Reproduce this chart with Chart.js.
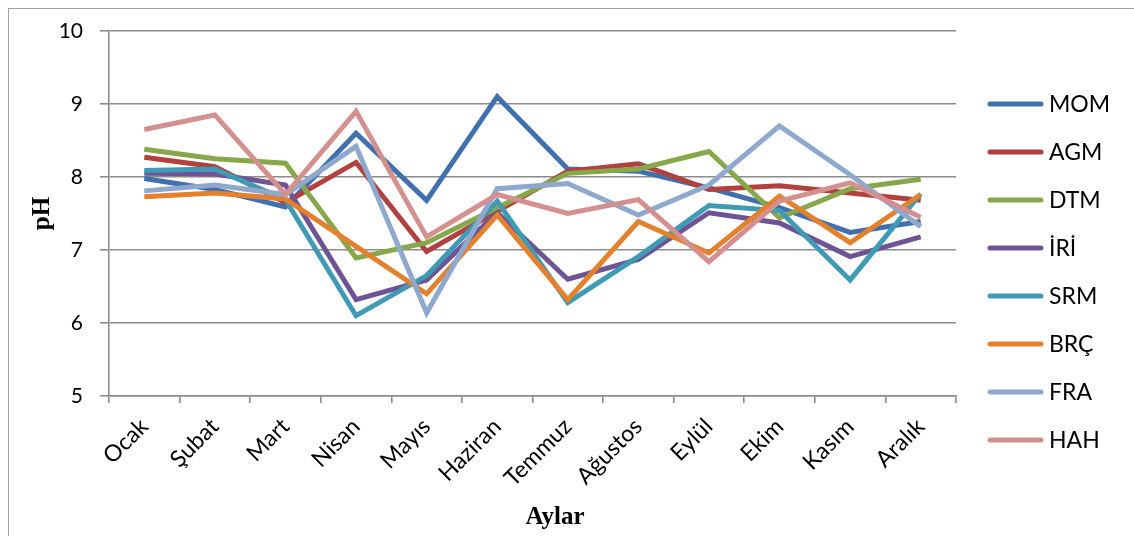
<!DOCTYPE html>
<html>
<head>
<meta charset="utf-8">
<script src="https://cdn.jsdelivr.net/npm/chart.js@4.4.1/dist/chart.umd.min.js"></script>
<style>
  html, body { margin: 0; padding: 0; background: #fff; }
  #wrap { position: relative; width: 1134px; height: 536px; overflow: hidden; }
  #frame { position: absolute; left: 8px; top: 8px; width: 1200px; height: 600px;
           border-left: 1.5px solid #a3a3a3; border-top: 1.5px solid #a3a3a3; }
  canvas { position: absolute; left: 0; top: 0; }
</style>
</head>
<body>
<div id="wrap">
  <div id="frame"></div>
  <canvas id="phChart" width="1134" height="536"></canvas>
</div>
<script>
// --- data ---
const months = ['Ocak', 'Şubat', 'Mart', 'Nisan', 'Mayıs', 'Haziran', 'Temmuz', 'Ağustos', 'Eylül', 'Ekim', 'Kasım', 'Aralık'];
const seriesNames = ['MOM', 'AGM', 'DTM', 'İRİ', 'SRM', 'BRÇ', 'FRA', 'HAH'];

const MOM = [7.98, 7.83, 7.59, 8.60, 7.68, 9.10, 8.11, 8.08, 7.85, 7.58, 7.24, 7.39];
const AGM = [8.27, 8.14, 7.65, 8.20, 6.98, 7.53, 8.08, 8.18, 7.83, 7.88, 7.78, 7.68];
const DTM = [8.38, 8.25, 8.19, 6.89, 7.10, 7.58, 8.05, 8.11, 8.35, 7.44, 7.84, 7.97];
const IRI = [8.05, 8.04, 7.89, 6.32, 6.59, 7.51, 6.60, 6.87, 7.51, 7.37, 6.91, 7.18];
const SRM = [8.09, 8.11, 7.69, 6.10, 6.65, 7.67, 6.28, 6.91, 7.61, 7.54, 6.59, 7.77];
const BRC = [7.73, 7.78, 7.70, 7.05, 6.40, 7.48, 6.32, 7.39, 6.96, 7.74, 7.10, 7.76];
const FRA = [7.81, 7.89, 7.76, 8.42, 6.14, 7.84, 7.91, 7.48, 7.89, 8.70, 8.03, 7.32];
const HAH = [8.65, 8.85, 7.76, 8.90, 7.18, 7.76, 7.50, 7.69, 6.84, 7.67, 7.92, 7.45];

const yTicks = [5, 6, 7, 8, 9, 10];

const seriesValues = [MOM, AGM, DTM, IRI, SRM, BRC, FRA, HAH];
const colors = ['#4071ae', '#b0413e', '#87a84a', '#6e5494', '#3e9ab5', '#e3812f', '#8ea8ce', '#d3908e'];

const gridColor = '#8c8c8c';

Chart.defaults.font.family = 'Lato';
Chart.defaults.color = '#000';

// legend drawn like Excel: short thick line + name, stacked on the right
const sideLegend = {
  id: 'sideLegend',
  afterDraw(chart) {
    const ctx = chart.ctx;
    ctx.save();
    ctx.font = '23px Lato';
    ctx.textBaseline = 'middle';
    ctx.textAlign = 'left';
    chart.data.datasets.forEach((ds, i) => {
      const y = 104 + i * 48;
      ctx.strokeStyle = ds.borderColor;
      ctx.lineWidth = 5;
      ctx.lineCap = 'round';
      ctx.beginPath();
      ctx.moveTo(990, y);
      ctx.lineTo(1041, y);
      ctx.stroke();
      ctx.fillStyle = '#000';
      ctx.fillText(ds.label, 1049, y + 1);
    });
    ctx.restore();
  }
};

// x axis title sits a bit right of the plot centre in the original
const xTitle = {
  id: 'xTitle',
  afterDraw(chart) {
    const ctx = chart.ctx;
    ctx.save();
    ctx.font = 'bold 25px "Liberation Serif"';
    ctx.fillStyle = '#000';
    ctx.textAlign = 'center';
    ctx.textBaseline = 'middle';
    ctx.fillText('Aylar', 555, 518);
    ctx.restore();
  }
};

new Chart(document.getElementById('phChart'), {
  type: 'line',
  data: {
    labels: months,
    datasets: seriesNames.map((name, i) => ({
      label: name,
      data: seriesValues[i],
      borderColor: colors[i],
      backgroundColor: colors[i],
      borderWidth: 5,
      pointRadius: 0,
      tension: 0,
      fill: false,
      order: seriesNames.length - i
    }))
  },
  options: {
    responsive: false,
    animation: false,
    layout: { padding: { left: 0, top: 31, right: 178, bottom: 0 } },
    plugins: {
      legend: { display: false },
      tooltip: { enabled: false }
    },
    scales: {
      x: {
        offset: true,
        grid: {
          offset: true,
          drawOnChartArea: false,
          drawTicks: true,
          tickLength: 7,
          color: gridColor,
          lineWidth: 1.6
        },
        border: { color: gridColor, width: 1.6 },
        ticks: {
          autoSkip: false,
          minRotation: 45,
          maxRotation: 45,
          padding: 10,
          font: { size: 23 },
          color: '#000'
        },
        afterFit(scale) { scale.height = 140; }
      },
      y: {
        min: 5,
        max: 10,
        afterBuildTicks(scale) { scale.ticks = yTicks.map(v => ({ value: v })); },
        grid: {
          drawTicks: true,
          tickLength: 9,
          color: gridColor,
          lineWidth: 1.6
        },
        border: { color: gridColor, width: 1.6 },
        ticks: {
          padding: 17,
          font: { size: 21 },
          color: '#000'
        },
        title: {
          display: true,
          text: 'pH',
          font: { family: 'Liberation Serif', size: 25, weight: 'bold' },
          color: '#000',
          padding: { top: 28, bottom: 0 }
        },
        afterFit(scale) { scale.width = 109; }
      }
    }
  },
  plugins: [sideLegend, xTitle]
});
</script>
</body>
</html>
